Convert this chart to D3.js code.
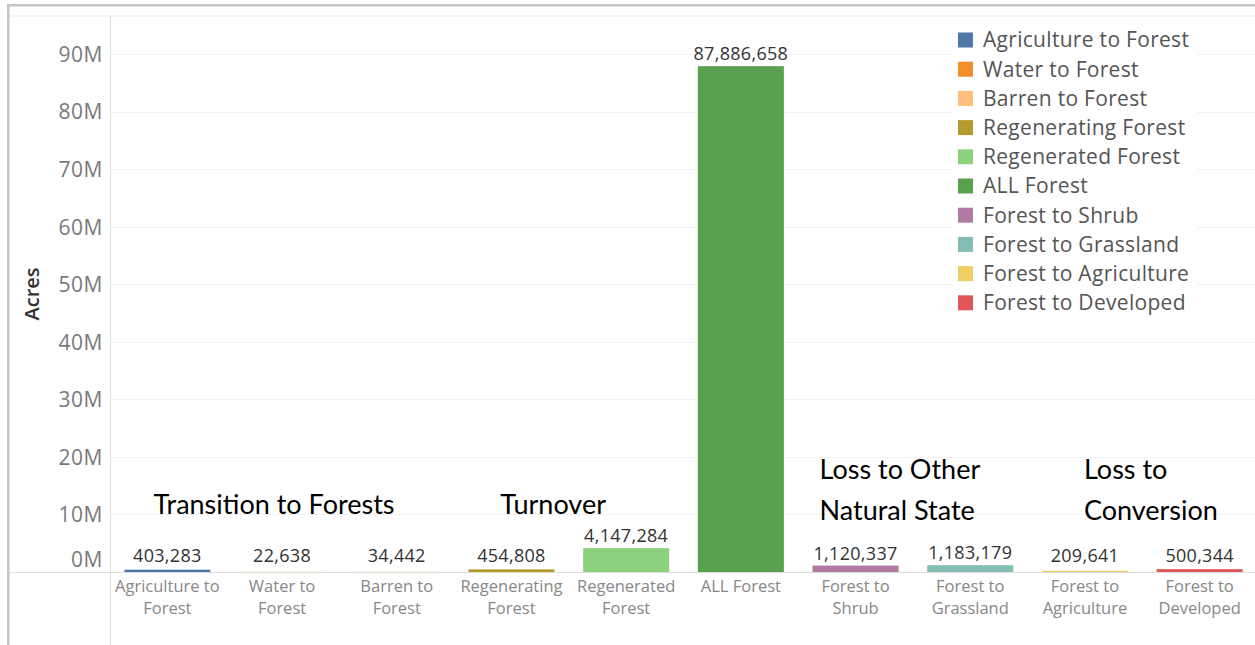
<!DOCTYPE html>
<html>
<head>
<meta charset="utf-8">
<script src="https://cdn.jsdelivr.net/npm/d3@7"></script>
<style>
  html, body { margin: 0; padding: 0; background: #fff; }
  svg { display: block; }
</style>
</head>
<body>
<svg id="chart" width="1255" height="645"></svg>
<script>
// Forest transition categories (acres)
const categories = [
  "Agriculture to Forest", "Water to Forest", "Barren to Forest",
  "Regenerating Forest", "Regenerated Forest", "ALL Forest",
  "Forest to Shrub", "Forest to Grassland", "Forest to Agriculture", "Forest to Developed"
];
const axisLabels = [
  ["Agriculture to", "Forest"], ["Water to", "Forest"], ["Barren to", "Forest"],
  ["Regenerating", "Forest"], ["Regenerated", "Forest"], ["ALL Forest"],
  ["Forest to", "Shrub"], ["Forest to", "Grassland"], ["Forest to", "Agriculture"], ["Forest to", "Developed"]
];
const acres = [403283, 22638, 34442, 454808, 4147284, 87886658, 1120337, 1183179, 209641, 500344];
const colors = ["#4e79a7", "#f28e2b", "#ffbe7d", "#b6992d", "#8cd17d", "#59a14f", "#b07aa1", "#86bcb6", "#f1ce63", "#e15759"];
const yTicks = [0, 10e6, 20e6, 30e6, 40e6, 50e6, 60e6, 70e6, 80e6, 90e6];

// Group annotations: text lines, category they hang from, offset from that category's centre
const groups = [
  { lines: ["Transition to Forests"], cat: 1, dx: -8, anchor: "middle", base: 514 },
  { lines: ["Turnover"], cat: 4, dx: -73, anchor: "middle", base: 514 },
  { lines: ["Loss to Other", "Natural State"], cat: 6, dx: -36, anchor: "start", base: 479 },
  { lines: ["Loss to", "Conversion"], cat: 8, dx: -1, anchor: "start", base: 479 }
];

const svg = d3.select("#chart");
const W = 1255, H = 645;
const plotLeft = 110, plotRight = 1257, plotTop = 16, zeroY = 572;

const x = d3.scaleBand().domain(categories).range([plotLeft, plotRight]).paddingInner(0.25).paddingOuter(0.125);
const y = d3.scaleLinear().domain([0, 90e6]).range([zeroY, 54]);
const cx = d => x(d) + x.bandwidth() / 2;

const tabFont = "'Open Sans', 'Noto Sans', sans-serif";

// frame
svg.append("rect").attr("x", 7).attr("y", 4).attr("width", W).attr("height", 2.5).attr("fill", "#c4c4c4");
svg.append("rect").attr("x", 7).attr("y", 4).attr("width", 2.5).attr("height", H).attr("fill", "#c4c4c4");
svg.append("line").attr("x1", 10).attr("x2", W).attr("y1", plotTop).attr("y2", plotTop)
  .attr("stroke", "#ebebeb").attr("stroke-width", 1);

// gridlines
svg.append("g").selectAll("line").data(yTicks.filter(d => d > 0)).join("line")
  .attr("x1", plotLeft).attr("x2", W)
  .attr("y1", d => Math.round(y(d)) + 0.5).attr("y2", d => Math.round(y(d)) + 0.5)
  .attr("stroke", "#f2f2f2");

// y axis
const yAxis = d3.axisLeft(y).tickValues(yTicks).tickSize(0).tickPadding(7)
  .tickFormat(d => (d / 1e6) + "M");
const yg = svg.append("g").attr("transform", `translate(${plotLeft},0)`).call(yAxis);
yg.select(".domain").remove();
yg.selectAll("text")
  .attr("font-family", tabFont).attr("font-size", 21).attr("fill", "#7a7a7a")
  .attr("letter-spacing", 0.5)
  .attr("dy", d => d === 0 ? "-0.28em" : "0.35em");

svg.append("line").attr("x1", plotLeft + 0.5).attr("x2", plotLeft + 0.5).attr("y1", plotTop).attr("y2", H)
  .attr("stroke", "#dcdcdc");

// axis title
svg.append("text").attr("transform", "translate(39,294) rotate(-90)")
  .attr("text-anchor", "middle").attr("font-family", tabFont).attr("font-size", 20)
  .attr("font-weight", 600).attr("fill", "#333").text("Acres");

// bars
svg.append("g").selectAll("rect").data(categories).join("rect")
  .attr("x", d => x(d)).attr("width", x.bandwidth())
  .attr("y", (d, i) => y(acres[i]))
  .attr("height", (d, i) => Math.max(zeroY - y(acres[i]), 0))
  .attr("fill", (d, i) => colors[i]);

// baseline
svg.append("line").attr("x1", 10).attr("x2", W).attr("y1", zeroY + 0.5).attr("y2", zeroY + 0.5)
  .attr("stroke", "#dcdcdc");

// value labels
svg.append("g").selectAll("text").data(categories).join("text")
  .attr("x", cx)
  .attr("y", (d, i) => Math.min(y(acres[i]), zeroY - 4) - 6)
  .attr("text-anchor", "middle").attr("font-family", tabFont).attr("font-size", 18)
  .attr("letter-spacing", 0.3)
  .attr("fill", "#333").text((d, i) => d3.format(",")(acres[i]));

// category labels
const cl = svg.append("g").selectAll("text").data(categories).join("text")
  .attr("x", cx).attr("y", 592)
  .attr("text-anchor", "middle").attr("font-family", tabFont).attr("font-size", 16.5)
  .attr("fill", "#888");
cl.each(function(d, i) {
  const t = d3.select(this);
  axisLabels[i].forEach((ln, k) => {
    t.append("tspan").attr("x", cx(d)).attr("dy", k === 0 ? 0 : 22).text(ln);
  });
});

// group annotations
groups.forEach(g => {
  const ax = cx(categories[g.cat]) + g.dx;
  const t = svg.append("text").attr("x", ax).attr("y", g.base)
    .attr("text-anchor", g.anchor).attr("font-family", "Lato, 'Open Sans', sans-serif")
    .attr("font-size", 27).attr("fill", "#000");
  g.lines.forEach((ln, k) => {
    t.append("tspan").attr("x", ax).attr("dy", k === 0 ? 0 : 41).text(ln);
  });
});

// legend
const leg = svg.append("g");
leg.append("rect").attr("x", 953).attr("y", 24).attr("width", 244).attr("height", 292).attr("fill", "#fff");
const items = leg.selectAll("g").data(categories).join("g")
  .attr("transform", (d, i) => `translate(958,${40 + i * 29.2})`);
items.append("rect").attr("x", 0).attr("y", -7.5).attr("width", 15).attr("height", 15)
  .attr("fill", (d, i) => colors[i]);
items.append("text").attr("x", 25).attr("y", 0).attr("dy", "0.35em")
  .attr("font-family", tabFont).attr("font-size", 21).attr("letter-spacing", 0.3)
  .attr("fill", "#555").text(d => d);
</script>
</body>
</html>
